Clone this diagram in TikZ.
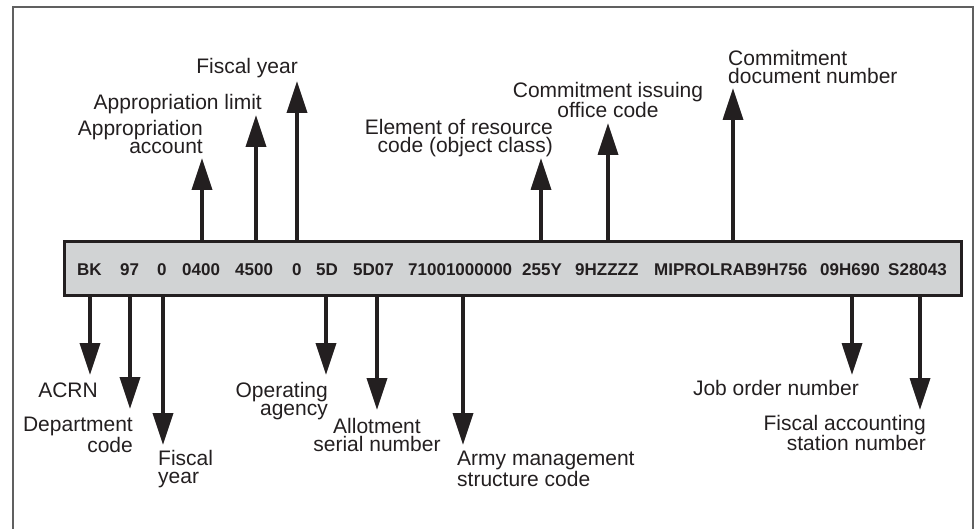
\documentclass[tikz,border=0pt]{standalone}
\usepackage{fontspec}
\setmainfont{Liberation Sans}
\usetikzlibrary{arrows.meta}
\definecolor{ink}{HTML}{231F20}
\definecolor{barfill}{HTML}{D1D3D4}
\definecolor{framegray}{HTML}{606060}
\begin{document}
\begin{tikzpicture}[x=1pt,y=-1pt,
  lbl/.style={font=\fontsize{21}{18.5}\selectfont, text=ink, inner sep=0pt},
  code/.style={font=\fontsize{17}{20}\selectfont\bfseries, text=ink, inner sep=0pt, anchor=base west},
  arr/.style={draw=ink, line width=3.5pt, -{Triangle[width=20pt,length=32pt]}},
]
\useasboundingbox (0,0) rectangle (979,529);
\draw[framegray, line width=2pt] (13,540) -- (13,7) -- (973,7) -- (973,540);
\node[draw=ink, fill=barfill, line width=3pt, minimum width=897pt, minimum height=54pt, inner sep=0pt, anchor=north west] (bar) at (63,240) {};
% codes
\node[code] (c1) at (77,275) {BK};
\node[code] (c2) at (120,275) {97};
\node[code] (c3) at (157,275) {0};
\node[code] (c4) at (182,275) {0400};
\node[code] (c5) at (235,275) {4500};
\node[code] (c6) at (292,275) {0};
\node[code] (c7) at (316,275) {5D};
\node[code] (c8) at (353,275) {5D07};
\node[code] (c9) at (408,275) {71001000000};
\node[code] (c10) at (522,275) {255Y};
\node[code] (c11) at (575,275) {9HZZZZ};
\node[code] (c12) at (654,275) {MIPROLRAB9H756};
\node[code] (c13) at (820,275) {09H690};
\node[code] (c14) at (888,275) {S28043};
% up arrows
\coordinate (u1) at (202,158);
\coordinate (u2) at (256,115);
\coordinate (u3) at (297,81);
\coordinate (u4) at (541,158);
\coordinate (u5) at (608,123);
\coordinate (u6) at (733,88);
\foreach \t in {u1,u2,u3,u4,u5,u6} \draw[arr] (bar.north -| \t) -- (\t);
% down arrows
\coordinate (d1) at (90,375);
\coordinate (d2) at (130,409);
\coordinate (d3) at (163,445);
\coordinate (d4) at (326,375);
\coordinate (d5) at (377,410);
\coordinate (d6) at (463,445);
\coordinate (d7) at (852,375);
\coordinate (d8) at (920,410);
\foreach \t in {d1,d2,d3,d4,d5,d6,d7,d8} \draw[arr] (bar.south -| \t) -- (\t);
% up labels
\node[lbl, anchor=north east, align=right] (lu1) at (203,120) {Appropriation\\account};
\node[lbl, anchor=north east] (lu2) at (262,94) {Appropriation limit};
\node[lbl, anchor=north east] (lu3) at (298,58) {Fiscal year};
\node[lbl, anchor=north east, align=right] (lu4) at (553,119) {Element of resource\\code (object class)};
\node[lbl, anchor=north, align=center] (lu5) at (608,82) {Commitment issuing\\office code};
\node[lbl, anchor=north west, align=left] (lu6) at (728,50) {Commitment\\document number};
% down labels
\node[lbl, anchor=north east] (ld1) at (98,383) {ACRN};
\node[lbl, anchor=north east, align=right] (ld2) at (133,417) {Department\\code};
\node[lbl, anchor=north west, align=left] (ld3) at (158,450) {Fiscal\\year};
\node[lbl, anchor=north east, align=right] (ld4) at (328,382) {Operating\\agency};
\node[lbl, anchor=north, align=center] (ld5) at (377,418) {Allotment\\serial number};
\node[lbl, anchor=north west, align=left] (ld6) at (457,451) {Army management\\structure code};
\node[lbl, anchor=north east] (ld7) at (859,380) {Job order number};
\node[lbl, anchor=north east, align=right] (ld8) at (926,415) {Fiscal accounting\\station number};
\end{tikzpicture}
\end{document}
